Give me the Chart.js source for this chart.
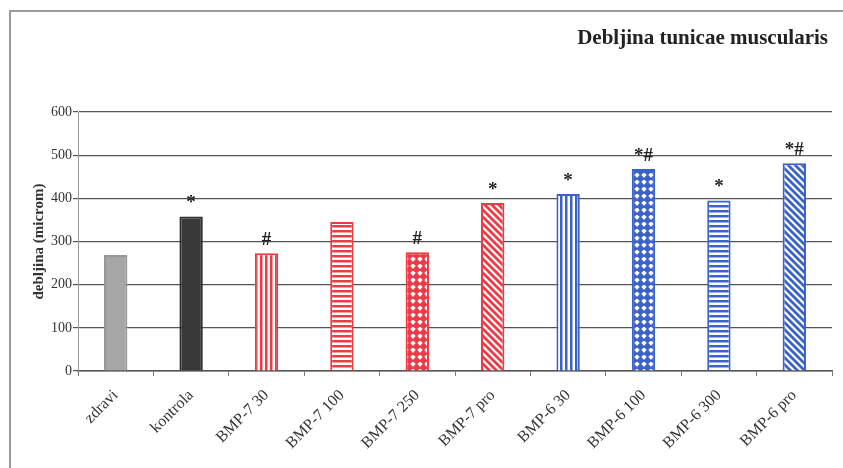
<!DOCTYPE html>
<html>
<head>
<meta charset="utf-8">
<script src="https://cdn.jsdelivr.net/npm/chart.js@4/dist/chart.umd.min.js"></script>
<style>
  html, body { margin: 0; padding: 0; background: #fff; }
  #wrap { width: 843px; height: 468px; }
</style>
</head>
<body>
<div id="wrap"><canvas id="chart" width="843" height="468"></canvas></div>
<script>
const categories = ['zdravi', 'kontrola', 'BMP-7 30', 'BMP-7 100', 'BMP-7 250', 'BMP-7 pro', 'BMP-6 30', 'BMP-6 100', 'BMP-6 300', 'BMP-6 pro']
const thickness = [269, 358, 273, 345, 275, 389, 410, 468, 395, 481]
const marks = ['', '*', '#', '', '#', '*', '*', '*#', '*', '*#']
const yTicks = [0, 100, 200, 300, 400, 500, 600]

const RED = 'rgb(236,58,70)'
const BLUE = 'rgb(58,98,200)'
const SERIF = '"Liberation Serif", "DejaVu Serif", serif'

// little tiles for the hatched bars
function makePattern(color, kind) {
  const c = document.createElement('canvas')
  const s = kind === 'diag' ? 7 : (kind === 'diamond' ? 7 : 5)
  c.width = s
  c.height = s
  const g = c.getContext('2d')
  g.fillStyle = '#fff'
  g.fillRect(0, 0, s, s)
  g.fillStyle = color
  g.strokeStyle = color
  if (kind === 'vert') {
    g.fillRect(0, 0, 2.5, s)
  } else if (kind === 'horiz') {
    g.fillRect(0, 0, s, 2.5)
  } else if (kind === 'diag') {
    g.lineWidth = 2.8
    g.beginPath()
    g.moveTo(-1, -1); g.lineTo(s + 1, s + 1)
    g.moveTo(-1, s - 1); g.lineTo(1, s + 1)
    g.moveTo(s - 1, -1); g.lineTo(s + 1, 1)
    g.stroke()
  } else if (kind === 'diamond') {
    g.beginPath()
    g.moveTo(s / 2, -0.8); g.lineTo(s + 0.8, s / 2); g.lineTo(s / 2, s + 0.8); g.lineTo(-0.8, s / 2)
    g.closePath()
    g.fill()
  }
  return g.createPattern(c, 'repeat')
}

const fills = [
  '#a6a6a6',
  '#383838',
  makePattern(RED, 'vert'),
  makePattern(RED, 'horiz'),
  makePattern(RED, 'diamond'),
  makePattern(RED, 'diag'),
  makePattern(BLUE, 'vert'),
  makePattern(BLUE, 'diamond'),
  makePattern(BLUE, 'horiz'),
  makePattern(BLUE, 'diag'),
]
const borders = ['#969696', '#2e2e2e', RED, RED, RED, RED, BLUE, BLUE, BLUE, BLUE]

const extras = {
  id: 'extras',
  beforeDraw(chart) {
    const ctx = chart.ctx
    ctx.save()
    ctx.fillStyle = '#fff'
    ctx.fillRect(0, 0, chart.width, chart.height)
    ctx.strokeStyle = '#9c9c9c'
    ctx.lineWidth = 2
    ctx.beginPath()
    ctx.moveTo(10, chart.height)
    ctx.lineTo(10, 11)
    ctx.lineTo(chart.width, 11)
    ctx.stroke()
    ctx.fillStyle = '#222'
    ctx.font = 'bold 21px ' + SERIF
    ctx.textAlign = 'right'
    ctx.textBaseline = 'middle'
    ctx.fillText('Debljina tunicae muscularis', 828, 39)
    ctx.restore()
  },
  afterDatasetsDraw(chart) {
    const ctx = chart.ctx
    const meta = chart.getDatasetMeta(0)
    ctx.save()
    ctx.fillStyle = '#222'
    ctx.font = 'bold 19px ' + SERIF
    ctx.textAlign = 'center'
    ctx.textBaseline = 'alphabetic'
    meta.data.forEach((bar, i) => {
      if (marks[i]) ctx.fillText(marks[i], bar.x, bar.y - 8)
    })
    ctx.restore()
  }
}

new Chart(document.getElementById('chart'), {
  type: 'bar',
  data: {
    labels: categories,
    datasets: [{
      data: thickness,
      backgroundColor: fills,
      borderColor: borders,
      borderWidth: 2,
      barPercentage: 0.31,
      categoryPercentage: 1,
    }],
  },
  options: {
    responsive: false,
    animation: false,
    events: [],
    layout: { padding: { left: 30, right: 11, top: 112, bottom: 0 } },
    plugins: { legend: { display: false }, tooltip: { enabled: false } },
    scales: {
      x: {
        grid: { drawOnChartArea: false, drawTicks: true, tickLength: 5, color: '#777' },
        border: { color: '#555', width: 1.5 },
        ticks: {
          color: '#333',
          font: { family: SERIF, size: 16 },
          minRotation: 45,
          maxRotation: 45,
          padding: 10,
          autoSkip: false,
        },
        afterFit(scale) { scale.height = 97 },
      },
      y: {
        min: 0,
        max: 600,
        afterBuildTicks(scale) { scale.ticks = yTicks.map((v) => ({ value: v })) },
        grid: { color: '#555', lineWidth: 1.2, tickLength: 5 },
        border: { color: '#999', width: 1 },
        ticks: { color: '#333', font: { family: SERIF, size: 14 }, padding: 1 },
        title: {
          display: true,
          text: 'debljina (microm)',
          color: '#333',
          font: { family: SERIF, size: 15, weight: 'bold' },
          padding: { top: 0, bottom: 4 },
        },
        afterFit(scale) { scale.width = 48 },
      },
    },
  },
  plugins: [extras],
})
</script>
</body>
</html>
